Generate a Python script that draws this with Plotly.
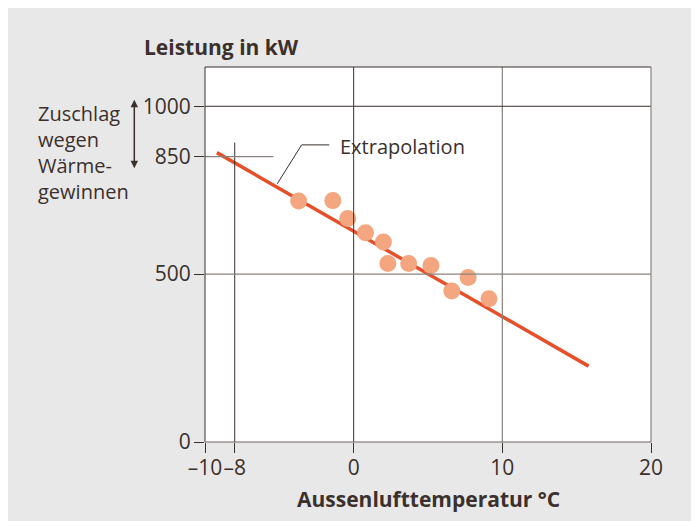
import plotly.graph_objects as go

# ---- data ----
temp_c = [-3.7, -1.4, -0.4, 0.8, 2.0, 2.3, 3.7, 5.2, 6.6, 7.7, 9.1]
power_kw = [718, 719, 666, 623, 596, 532, 532, 526, 450, 490, 427]
fit_x = [-9.2, 15.8]
fit_y = [862, 226]
x_ticks = [-10, -8, 0, 10, 20]
x_ticktext = ["–10", "–8", "0", "10", "20"]
y_ticks = [0, 500, 850, 1000]
y_ticktext = ["0", "500", "850", "1000"]
leader_x = [-5.14, -3.5, -1.64]
leader_y = [769, 885, 885]

FONT = "Open Sans"
DARK = "#3b302c"
GRAY = "#8a827e"
BG = "#e8e8e8"

fig = go.Figure()

fig.add_trace(go.Scatter(x=leader_x, y=leader_y, mode="lines",
                         line=dict(color=DARK, width=1), hoverinfo="skip"))
fig.add_trace(go.Scatter(x=fit_x, y=fit_y, mode="lines",
                         line=dict(color="#e5502b", width=3.5), hoverinfo="skip"))
fig.add_trace(go.Scatter(x=temp_c, y=power_kw, mode="markers",
                         marker=dict(color="#f3a67f", size=17, line=dict(width=0))))

shapes = []
# grid lines
shapes.append(dict(type="line", xref="x", yref="y", x0=0, x1=0, y0=0, y1=1117, line=dict(color=DARK, width=1)))
shapes.append(dict(type="line", xref="x", yref="y", x0=10, x1=10, y0=0, y1=1117, line=dict(color=GRAY, width=1.2)))
shapes.append(dict(type="line", xref="x", yref="y", x0=-8, x1=-8, y0=0, y1=892, line=dict(color=DARK, width=1)))
shapes.append(dict(type="line", xref="x", yref="y", x0=-10, x1=20, y0=500, y1=500, line=dict(color=GRAY, width=1.2)))
shapes.append(dict(type="line", xref="x", yref="y", x0=-10, x1=20, y0=1000, y1=1000, line=dict(color=DARK, width=1)))
shapes.append(dict(type="line", xref="x", yref="y", x0=-10, x1=-5.4, y0=850, y1=850, line=dict(color=GRAY, width=1.2)))
# frame
shapes.append(dict(type="line", xref="paper", yref="paper", x0=0, x1=0, y0=0, y1=1, line=dict(color=DARK, width=1)))
shapes.append(dict(type="line", xref="paper", yref="paper", x0=0, x1=1, y0=1, y1=1, line=dict(color=DARK, width=1)))
shapes.append(dict(type="line", xref="paper", yref="paper", x0=1, x1=1, y0=0, y1=1, line=dict(color=GRAY, width=1.2)))
shapes.append(dict(type="line", xref="paper", yref="paper", x0=0, x1=1, y0=0, y1=0, line=dict(color="#6e6561", width=1.2)))

annotations = [
    dict(text="Extrapolation", x=-1.04, y=880, xref="x", yref="y", xanchor="left", yanchor="middle",
         showarrow=False, font=dict(family=FONT, size=20, color=DARK)),
    dict(text="<b>Leistung in kW</b>", x=0.038, y=1.054, xref="paper", yref="paper",
         xanchor="center", yanchor="middle", showarrow=False, font=dict(family=FONT, size=21, color=DARK)),
    dict(text="<b>Aussenlufttemperatur °C</b>", x=0.5, y=-0.151, xref="paper", yref="paper",
         xanchor="center", yanchor="middle", showarrow=False, font=dict(family=FONT, size=21, color=DARK)),
    dict(text="Zuschlag<br>wegen<br>Wärme-<br>gewinnen", x=-0.379, y=0.773, xref="paper", yref="paper",
         xanchor="left", yanchor="middle", align="left", showarrow=False,
         font=dict(family=FONT, size=20, color=DARK)),
    dict(text="", x=-0.1585, y=0.730, xref="paper", yref="paper", ax=0, ay=-70,
         showarrow=True, arrowhead=2, arrowside="end+start", arrowsize=1, arrowwidth=1.5,
         arrowcolor=DARK, standoff=0, startstandoff=0),
]

fig.update_layout(
    width=699, height=521,
    margin=dict(l=197, r=56, t=59, b=87),
    paper_bgcolor=BG, plot_bgcolor="white",
    showlegend=False,
    shapes=shapes, annotations=annotations,
    font=dict(family=FONT, size=20, color=DARK),
    xaxis=dict(range=[-10, 20], tickvals=x_ticks, ticktext=x_ticktext, tickangle=0,
               showgrid=False, zeroline=False, showline=False,
               ticks="outside", ticklen=10, tickcolor=DARK, tickwidth=1,
               ticklabelstandoff=-3,
               tickfont=dict(family=FONT, size=21, color=DARK)),
    yaxis=dict(range=[0, 1117], tickvals=y_ticks, ticktext=y_ticktext,
               showgrid=False, zeroline=False, showline=False,
               ticks="outside", ticklen=10, tickcolor=DARK, tickwidth=1,
               ticklabelstandoff=-1,
               tickfont=dict(family=FONT, size=21, color=DARK)),
)

fig.write_html("out.html")
